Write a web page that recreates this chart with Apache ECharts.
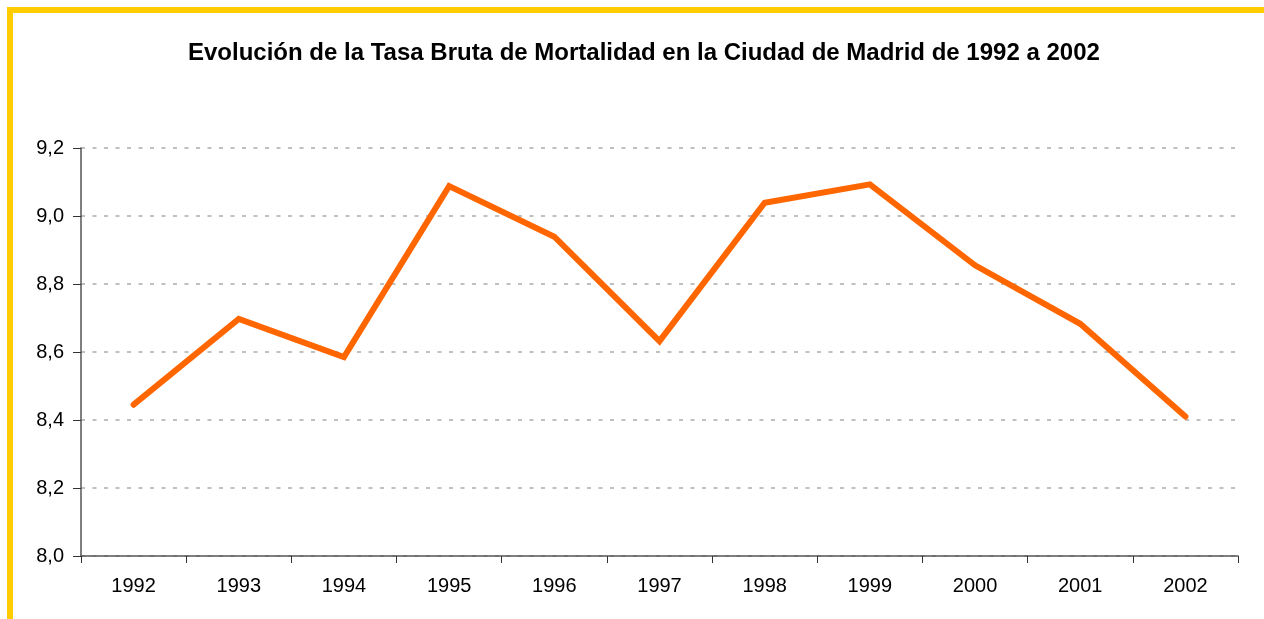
<!DOCTYPE html>
<html>
<head>
<meta charset="utf-8">
<script src="https://cdn.jsdelivr.net/npm/echarts@6/dist/echarts.min.js"></script>
<style>
  html, body { margin: 0; padding: 0; background: #fff; }
  #chart { width: 1264px; height: 619px; }
  .frame {
    position: absolute; left: 7px; top: 7px; right: 0; bottom: 0;
    border-top: 6px solid #FFCC00; border-left: 6px solid #FFCC00;
    pointer-events: none;
  }
</style>
</head>
<body>
<div id="chart"></div>
<div class="frame"></div>
<script>
// datos
var years = ['1992', '1993', '1994', '1995', '1996', '1997', '1998', '1999', '2000', '2001', '2002']
var tasaBruta = [8.445, 8.697, 8.585, 9.088, 8.939, 8.632, 9.039, 9.093, 8.855, 8.683, 8.41]
var yMin = 8.0
var yMax = 9.2
var yStep = 0.2

var chart = echarts.init(document.getElementById('chart'))
chart.setOption({
  animation: false,
  title: {
    text: 'Evolución de la Tasa Bruta de Mortalidad en la Ciudad de Madrid de 1992 a 2002',
    left: 183,
    top: 36,
    textStyle: {
      fontFamily: 'Liberation Sans, Arial, sans-serif',
      fontSize: 24,
      fontWeight: 'bold',
      color: '#000'
    }
  },
  grid: {
    left: 81,
    right: 26,
    top: 148,
    bottom: 63,
    containLabel: false
  },
  xAxis: {
    type: 'category',
    data: years,
    boundaryGap: true,
    axisLine: { lineStyle: { color: '#555', width: 1.5 } },
    axisTick: { show: true, length: 7, lineStyle: { color: '#333', width: 1 } },
    axisLabel: {
      margin: 20,
      color: '#000',
      fontSize: 20,
      fontFamily: 'Liberation Sans, Arial, sans-serif'
    }
  },
  yAxis: {
    type: 'value',
    min: yMin,
    max: yMax,
    interval: yStep,
    axisLine: { show: true, lineStyle: { color: '#555', width: 1.5 } },
    axisTick: { show: true, length: 8, lineStyle: { color: '#333', width: 1 } },
    axisLabel: {
      margin: 17,
      color: '#000',
      fontSize: 20,
      fontFamily: 'Liberation Sans, Arial, sans-serif',
      formatter: function(v) {
        return v.toFixed(1).replace('.', ',')
      }
    },
    splitLine: {
      show: true,
      lineStyle: { color: '#c0c0c0', width: 2, type: [4, 7.5] }
    }
  },
  series: [
    {
      type: 'line',
      data: tasaBruta,
      symbol: 'none',
      lineStyle: { color: '#FF6600', width: 6, cap: 'round', join: 'miter' }
    }
  ]
})
</script>
</body>
</html>
